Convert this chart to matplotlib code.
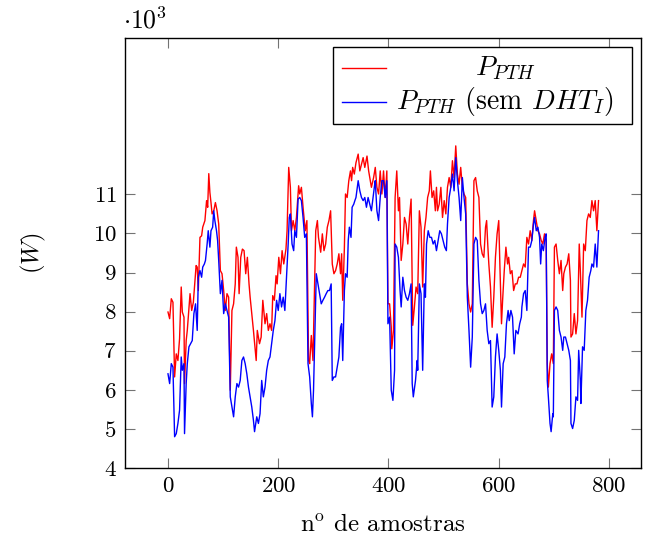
import matplotlib
matplotlib.use("Agg")
import matplotlib.pyplot as plt
from matplotlib.lines import Line2D
from matplotlib.patches import Rectangle

plt.rcParams["font.family"] = ["cmr10", "DejaVu Serif"]
plt.rcParams["mathtext.fontset"] = "cm"
plt.rcParams["axes.formatter.use_mathtext"] = True

# P_PTH (kW, eixo em 10^3 W)
amostras_pth = [0, 3, 6, 9, 12, 15, 18, 21, 24, 26, 29, 30, 33, 35, 37, 40, 43, 46, 48, 51,
                53, 55, 58, 61, 63, 67, 70, 72, 74, 76, 78, 80, 83, 86, 89, 92, 95, 98, 101,
                104, 107, 110, 113, 116, 119, 122, 124, 127, 129, 132, 135, 138, 141, 144,
                147, 149, 152, 155, 160, 162, 166, 169, 172, 176, 179, 182, 185, 188, 190,
                193, 196, 198, 201, 204, 207, 210, 214, 216, 219, 222, 224, 227, 230, 233,
                237, 239, 242, 245, 249, 252, 255, 257, 260, 263, 268, 271, 273, 277, 280,
                283, 286, 289, 292, 295, 298, 301, 304, 307, 310, 313, 315, 317, 320, 322,
                325, 328, 331, 333, 335, 338, 341, 345, 348, 351, 354, 357, 361, 364, 369,
                373, 376, 379, 382, 385, 388, 391, 394, 397, 399, 402, 405, 406, 409, 412,
                415, 418, 420, 423, 426, 429, 432, 435, 438, 441, 444, 447, 450, 453, 456,
                459, 462, 465, 468, 471, 474, 476, 479, 482, 485, 487, 489, 492, 495, 498,
                501, 504, 507, 510, 513, 516, 519, 522, 525, 528, 531, 534, 537, 540, 543,
                546, 549, 552, 555, 558, 561, 564, 567, 570, 573, 576, 578, 580, 582, 585,
                588, 591, 594, 597, 600, 602, 605, 607, 610, 613, 616, 618, 621, 624, 627,
                630, 633, 636, 639, 642, 645, 648, 651, 654, 657, 660, 663, 665, 668, 671,
                674, 677, 680, 683, 686, 688, 690, 693, 696, 699, 701, 704, 707, 710, 713,
                716, 718, 721, 724, 727, 730, 731, 734, 737, 740, 743, 746, 748, 751, 754,
                757, 760, 763, 766, 769, 772, 775, 778, 781]
p_pth = [7.99, 7.82, 8.33, 8.24, 6.33, 6.92, 6.75, 7.31, 8.63, 7.99, 7.86, 6.16, 7.26, 7.52,
         7.90, 8.46, 8.03, 8.24, 8.63, 9.18, 9.14, 8.54, 9.90, 9.94, 10.16, 10.33, 10.84,
         10.67, 11.53, 11.05, 10.79, 10.50, 10.58, 10.79, 10.58, 10.24, 9.05, 8.97, 8.54,
         8.03, 8.46, 8.37, 5.99, 8.03, 8.20, 8.71, 9.65, 9.39, 8.46, 9.39, 9.60, 9.56, 8.97,
         9.39, 8.71, 8.37, 7.95, 7.52, 6.75, 7.52, 7.18, 7.35, 8.29, 7.69, 7.95, 7.52, 7.69,
         7.52, 8.41, 8.29, 8.92, 8.71, 9.39, 8.97, 9.56, 9.22, 9.60, 10.07, 11.69, 11.18,
         10.07, 10.33, 10.07, 10.41, 11.22, 11.01, 11.18, 10.67, 10.07, 10.33, 6.75, 6.67,
         7.39, 6.75, 10.07, 10.33, 9.90, 9.52, 9.99, 9.56, 9.73, 10.16, 10.33, 10.58, 9.22,
         8.97, 9.05, 9.22, 9.48, 8.97, 9.48, 8.29, 9.65, 11.01, 10.92, 11.35, 11.60, 11.35,
         11.69, 11.52, 11.81, 12.03, 11.60, 11.77, 11.94, 11.69, 11.98, 11.60, 11.18, 11.43,
         11.69, 11.18, 11.01, 11.60, 11.01, 11.60, 10.92, 11.60, 8.20, 8.20, 7.60, 7.05,
         7.52, 10.92, 11.60, 10.58, 10.92, 9.31, 9.73, 10.41, 10.24, 9.73, 10.41, 10.88,
         7.65, 8.12, 8.63, 8.46, 10.58, 10.16, 8.63, 10.07, 10.41, 10.92, 11.09, 11.60,
         10.92, 11.09, 10.58, 11.18, 10.58, 10.75, 11.18, 10.41, 10.84, 10.50, 11.18, 11.43,
         11.18, 11.86, 11.43, 12.24, 11.52, 11.26, 11.69, 11.18, 11.01, 10.92, 8.71, 8.20,
         7.99, 8.20, 11.35, 11.43, 11.09, 10.92, 9.73, 9.48, 9.39, 10.16, 10.33, 9.73, 9.22,
         8.63, 7.60, 8.37, 9.39, 9.99, 10.33, 9.22, 7.69, 8.29, 9.05, 9.65, 9.22, 9.39, 8.97,
         9.05, 8.54, 8.71, 8.71, 8.88, 8.88, 9.05, 9.22, 9.14, 9.90, 9.73, 10.07, 9.82,
         10.33, 10.58, 10.33, 10.07, 9.99, 9.82, 9.73, 9.99, 9.82, 6.67, 6.07, 6.67, 6.92,
         6.67, 9.65, 9.73, 9.31, 8.97, 9.31, 8.54, 8.97, 9.14, 9.22, 9.48, 8.80, 7.35, 7.43,
         7.95, 7.43, 7.77, 9.73, 9.05, 7.86, 9.73, 9.56, 10.33, 10.50, 10.41, 10.84, 10.58,
         10.84, 10.07, 10.84]

# P_PTH (sem DHT_I)
amostras_sem = [0, 3, 6, 9, 12, 15, 18, 21, 24, 26, 29, 30, 33, 35, 38, 41, 44, 47, 50, 53,
                55, 58, 61, 63, 66, 68, 71, 73, 76, 78, 81, 83, 85, 88, 90, 92, 95, 98, 101,
                104, 107, 110, 113, 116, 119, 122, 125, 128, 131, 134, 137, 140, 143, 146,
                149, 152, 155, 157, 161, 164, 167, 170, 173, 176, 179, 182, 185, 188, 191,
                194, 197, 200, 203, 206, 209, 212, 215, 218, 220, 222, 225, 228, 230, 233,
                236, 239, 242, 245, 248, 251, 254, 257, 260, 262, 264, 269, 272, 275, 278,
                281, 284, 287, 290, 293, 296, 298, 301, 304, 307, 310, 313, 315, 317, 320,
                322, 325, 327, 329, 332, 334, 337, 339, 341, 345, 348, 351, 354, 357, 360,
                363, 366, 369, 372, 375, 376, 379, 382, 385, 388, 391, 394, 397, 399, 402,
                405, 408, 411, 412, 415, 418, 421, 423, 426, 429, 432, 435, 438, 441, 443,
                445, 449, 452, 453, 456, 459, 462, 465, 467, 469, 472, 475, 478, 481, 484,
                487, 490, 493, 496, 499, 502, 505, 507, 510, 513, 516, 519, 522, 525, 528,
                531, 534, 537, 540, 543, 546, 549, 552, 555, 558, 561, 564, 567, 570, 573,
                576, 579, 582, 585, 588, 591, 594, 597, 600, 603, 605, 608, 611, 614, 617,
                619, 622, 625, 628, 631, 635, 638, 641, 642, 645, 648, 651, 654, 657, 660,
                663, 665, 668, 671, 674, 676, 678, 681, 684, 686, 688, 690, 693, 695, 698,
                699, 701, 704, 707, 710, 713, 716, 718, 721, 724, 727, 730, 731, 734, 737,
                740, 743, 745, 748, 749, 752, 755, 758, 761, 764, 767, 769, 772, 775, 778, 781]
p_pth_sem = [6.41, 6.16, 6.67, 6.58, 4.80, 4.88, 5.14, 5.48, 6.84, 6.50, 6.67, 4.88, 6.16,
             6.67, 7.10, 7.18, 7.26, 7.95, 8.20, 7.52, 8.88, 9.05, 8.88, 9.14, 9.22, 9.31,
             9.73, 10.07, 9.65, 10.07, 10.16, 10.58, 10.33, 10.07, 9.82, 9.31, 8.46, 8.80,
             7.95, 8.20, 8.03, 7.86, 5.82, 5.56, 5.31, 5.82, 6.16, 6.07, 6.24, 6.75, 6.84,
             6.67, 6.41, 6.07, 5.82, 5.56, 5.22, 4.93, 5.31, 5.14, 5.39, 6.24, 5.82, 6.07,
             6.50, 6.75, 6.84, 7.18, 7.52, 7.77, 8.29, 8.03, 8.46, 8.12, 8.37, 8.03, 8.88,
             9.73, 10.41, 10.50, 9.73, 9.56, 10.07, 9.90, 10.88, 10.92, 10.84, 10.41, 9.90,
             9.99, 6.67, 6.33, 5.65, 5.31, 5.99, 8.97, 8.71, 8.46, 8.20, 8.29, 8.37, 8.46,
             8.54, 8.54, 8.71, 6.24, 6.33, 6.33, 6.58, 6.84, 7.60, 7.69, 6.75, 8.54, 8.97,
             8.88, 9.82, 10.16, 9.90, 10.67, 10.75, 10.84, 10.92, 11.35, 11.09, 10.92, 10.84,
             10.92, 10.67, 10.92, 10.75, 10.58, 10.92, 11.26, 11.35, 10.58, 10.33, 10.92,
             11.35, 11.35, 10.92, 11.35, 7.69, 7.86, 5.99, 5.73, 6.50, 9.73, 9.65, 9.39, 8.54,
             8.12, 8.88, 8.54, 8.37, 8.29, 8.46, 8.71, 6.16, 5.82, 6.24, 6.75, 6.50, 8.71,
             8.46, 6.50, 8.71, 8.37, 9.73, 10.07, 9.90, 9.90, 9.73, 9.82, 9.56, 9.82, 10.07,
             9.99, 9.82, 9.65, 9.56, 10.24, 10.92, 11.18, 11.52, 11.09, 11.94, 11.35, 10.92,
             10.33, 11.43, 10.92, 10.50, 8.37, 7.52, 6.58, 7.35, 9.73, 9.90, 9.82, 8.80, 8.20,
             7.95, 8.03, 8.20, 7.52, 7.18, 7.26, 5.56, 5.82, 6.84, 7.43, 7.01, 6.50, 5.56,
             6.67, 6.84, 7.69, 8.03, 7.77, 8.03, 7.86, 6.92, 7.52, 7.43, 7.69, 7.86, 8.12,
             8.46, 8.54, 8.03, 9.65, 9.65, 9.82, 10.24, 10.41, 10.07, 10.16, 9.90, 9.22, 9.73,
             9.56, 9.90, 9.99, 6.24, 5.82, 5.14, 4.93, 5.39, 5.31, 8.03, 8.12, 8.03, 7.52,
             7.35, 7.01, 7.35, 7.35, 7.18, 7.01, 6.75, 5.14, 5.01, 5.22, 5.82, 5.73, 7.01,
             6.24, 5.65, 7.10, 7.01, 8.03, 8.29, 8.88, 9.05, 9.22, 9.14, 9.73, 9.14, 10.07]

xticks = [0, 200, 400, 600, 800]
yticks = [4, 5, 6, 7, 8, 9, 10, 11]

fig = plt.figure(figsize=(6.51, 5.42), dpi=100)
ax = fig.add_axes([0.192, 0.1365, 0.7926, 0.7934])

ax.plot(amostras_pth, p_pth, color="#ff0000", linewidth=1.0)
ax.plot(amostras_sem, p_pth_sem, color="#0000ff", linewidth=1.0)

ax.set_xlim(-78, 858)
ax.set_ylim(4, 15)
ax.set_xticks(xticks)
ax.set_yticks(yticks)
ax.tick_params(direction="in", length=7.5, width=0.8, color="0.45",
               top=True, right=True, labelsize=16.5, pad=6)
for s in ax.spines.values():
    s.set_linewidth(1.0)

ax.set_xlabel(r"n$^{\mathrm{o}}$ de amostras", fontsize=18, labelpad=13)
ax.set_ylabel(r"$(W)$", fontsize=17.5, labelpad=32)
ax.text(-0.004, 1.01, r"$\cdot 10^3$", transform=ax.transAxes,
        ha="left", va="bottom", fontsize=18.5)

# legenda
ax.add_patch(Rectangle((0.403, 0.80), 0.5796, 0.179, transform=ax.transAxes,
                       facecolor="white", edgecolor="black", linewidth=1.0, zorder=5))
ax.add_line(Line2D([0.42, 0.506], [0.9295, 0.9295], transform=ax.transAxes,
                   color="#ff0000", linewidth=1.0, zorder=6))
ax.add_line(Line2D([0.42, 0.506], [0.852, 0.852], transform=ax.transAxes,
                   color="#0000ff", linewidth=1.0, zorder=6))
ax.text(0.7364, 0.9295, r"$P_{PTH}$", transform=ax.transAxes,
        ha="center", va="center", fontsize=20, zorder=6)
ax.text(0.7364, 0.852, r"$P_{PTH}$ (sem $DHT_I$)", transform=ax.transAxes,
        ha="center", va="center", fontsize=20, zorder=6)

fig.savefig("out.png", dpi=100)
